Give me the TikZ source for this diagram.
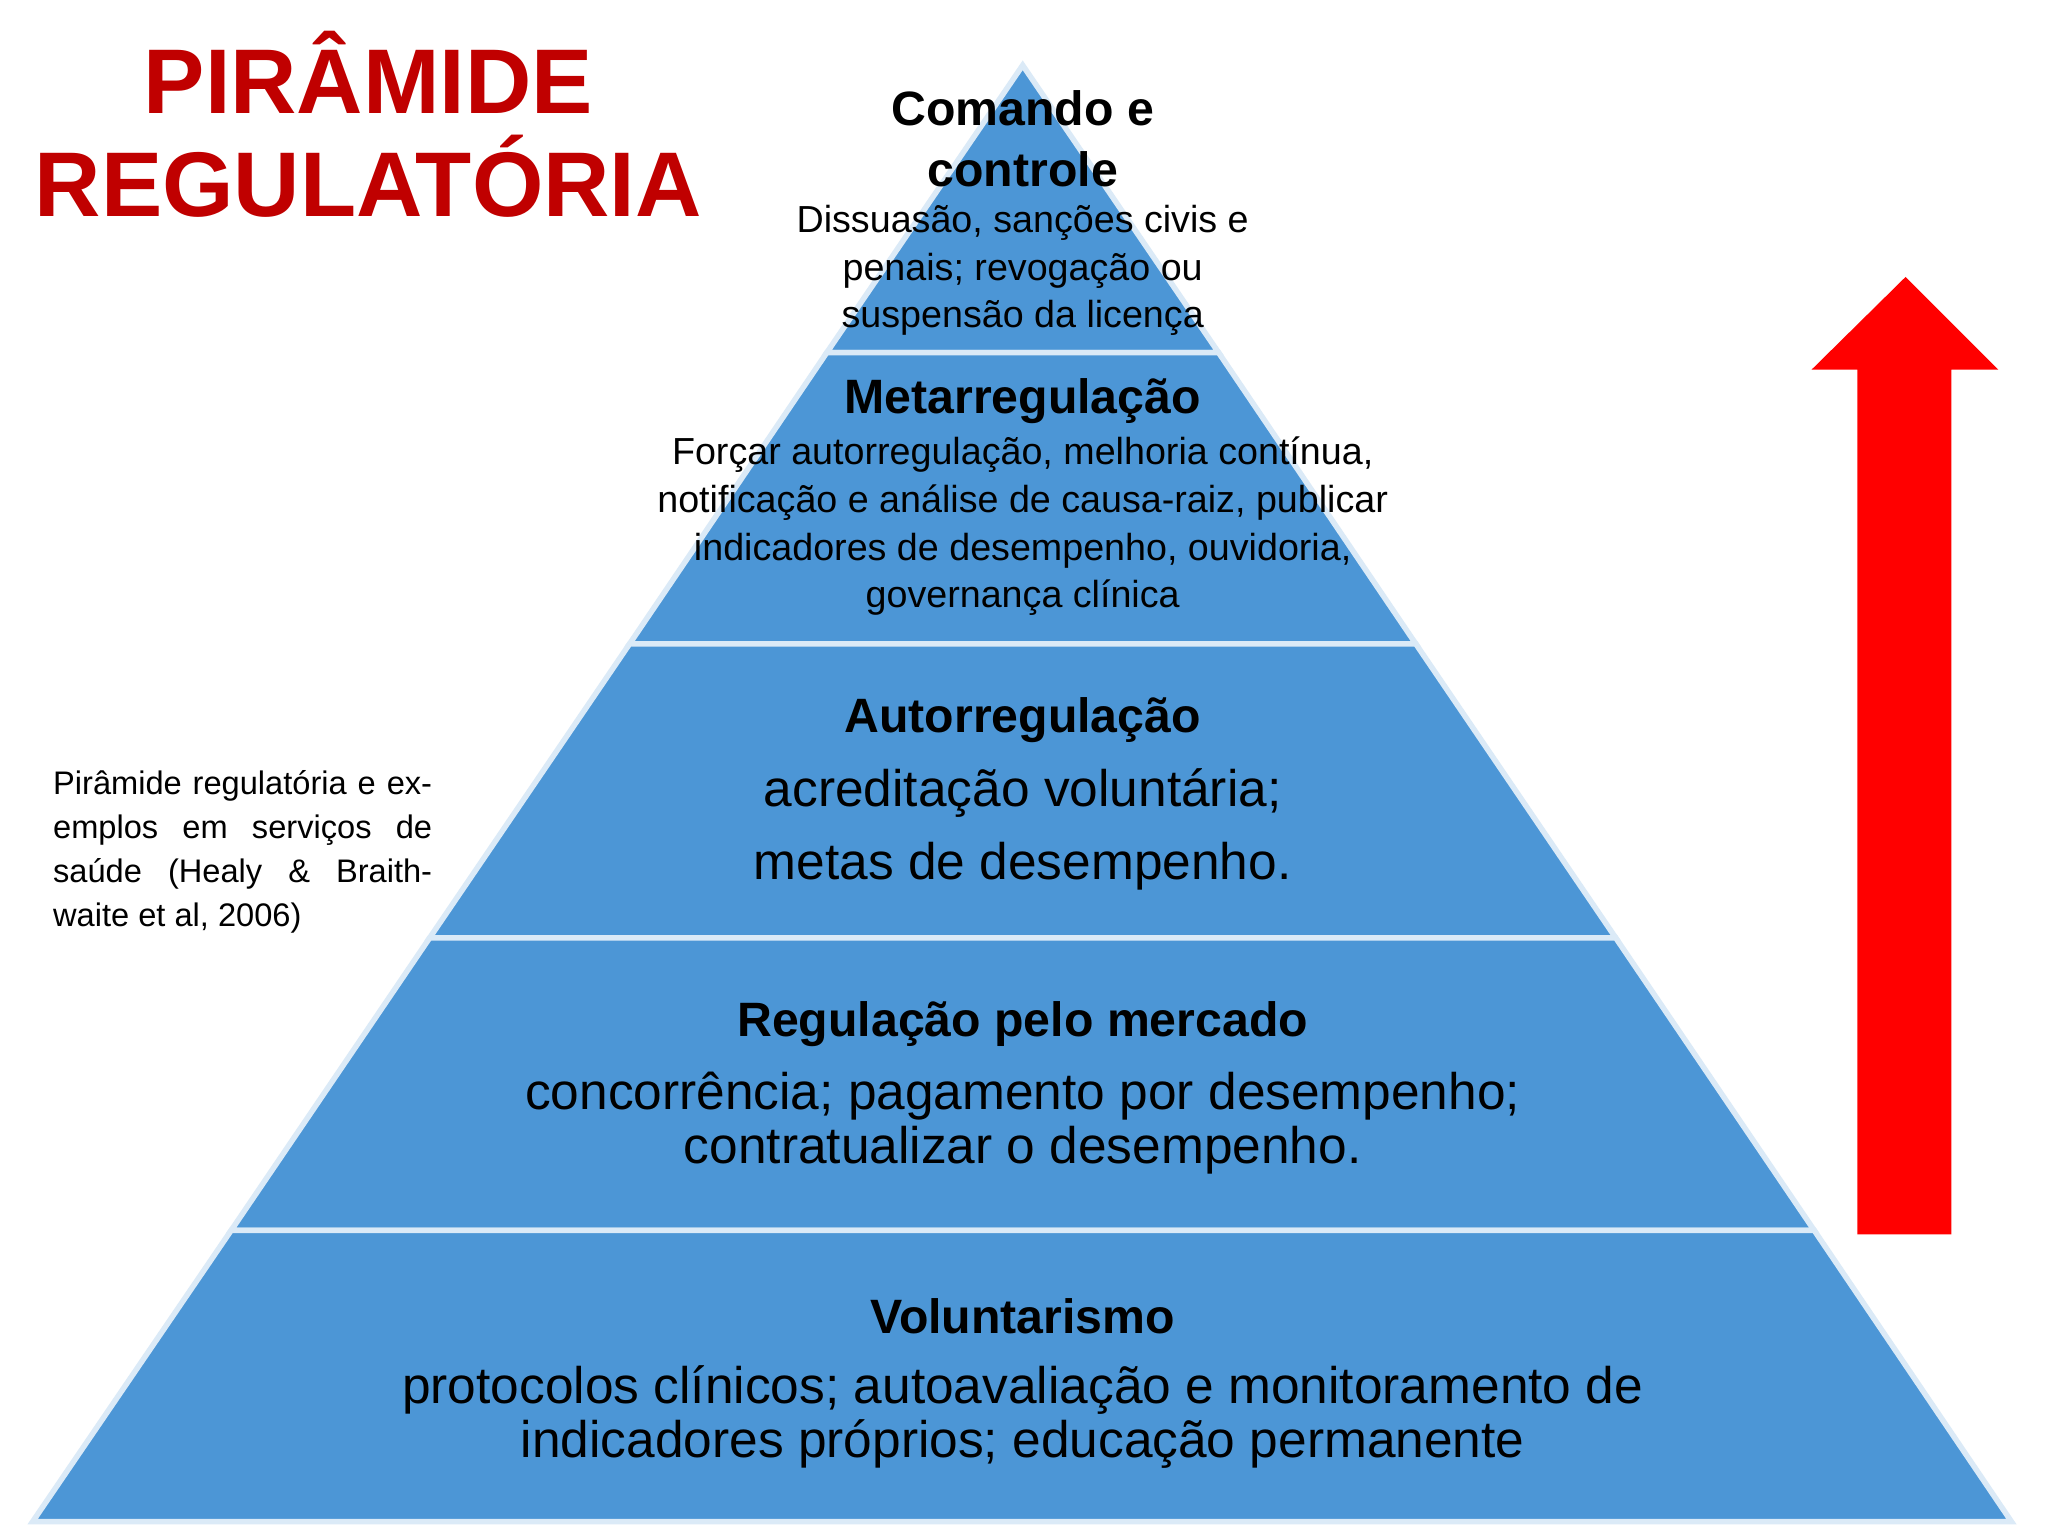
\documentclass[tikz,border=0pt]{standalone}
\usepackage{fontspec}
\setmainfont{Liberation Sans}
\begin{document}
\begin{tikzpicture}[x=0.01cm,y=-0.01cm,
  tier/.style={fill=pyr, draw=white!80!pyr, line width=1.2pt},
  head/.style={font=\fontsize{10.5}{13.3}\selectfont\bfseries, align=center},
  small/.style={font=\fontsize{8.2}{10.4}\selectfont, align=center},
  big/.style={font=\fontsize{11.2}{11.8}\selectfont, align=center}]
\definecolor{pyr}{RGB}{76,150,214}
\definecolor{ttl}{RGB}{192,0,0}
\useasboundingbox (0,0) rectangle (1568,1176);
\fill[white] (0,0) rectangle (1568,1176);
% tiers
\path[tier] (783,50) -- (933,270) -- (633,270) -- cycle;
\path[tier] (633,270) -- (933,270) -- (1084,493) -- (482,493) -- cycle;
\path[tier] (482,493) -- (1084,493) -- (1237,718) -- (329,718) -- cycle;
\path[tier] (329,718) -- (1237,718) -- (1389,942) -- (177,942) -- cycle;
\path[tier] (177,942) -- (1389,942) -- (1540,1165) -- (25,1165) -- cycle;
% title
\node[font=\fontsize{20}{22.5}\selectfont\bfseries, text=ttl, align=center] (title) at (282,95) {PIRÂMIDE\\REGULATÓRIA};
% tier 1
\node[head] (t1) at (783,106) {Comando e\\controle};
\node[small] (d1) at (783,207) {Dissuasão, sanções civis e\\penais; revogação ou\\suspensão da licença};
% tier 2
\node[head] (t2) at (783,307) {Metarregulação};
\node[small] (d2) at (783,403) {Forçar autorregulação, melhoria contínua,\\notificação e análise de causa-raiz, publicar\\indicadores de desempenho, ouvidoria,\\governança clínica};
% tier 3
\node[head] (t3) at (783,551) {Autorregulação};
\node[big] (d3a) at (783,607) {acreditação voluntária;};
\node[big] (d3b) at (783,663) {metas de desempenho.};
% tier 4
\node[head] (t4) at (783,784) {Regulação pelo mercado};
\node[big] (d4) at (783,860) {concorrência; pagamento por desempenho;\\contratualizar o desempenho.};
% tier 5
\node[head] (t5) at (783,1008) {Voluntarismo};
\node[big] (d5) at (783,1085) {protocolos clínicos; autoavaliação e monitoramento de\\indicadores próprios; educação permanente};
% left note
\node[anchor=north west, inner sep=0pt, text width=2.9cm, align=justify,
  font=\fontsize{7.1}{9.6}\selectfont] (note) at (40,589)
  {Pirâmide regulatória e exemplos em serviços de saúde (Healy \& Braithwaite et al, 2006)};
% arrow
\fill[red] (1422,945) -- (1494,945) -- (1494,283) -- (1530,283) -- (1459,212) -- (1387,283) -- (1422,283) -- cycle;
\end{tikzpicture}
\end{document}
